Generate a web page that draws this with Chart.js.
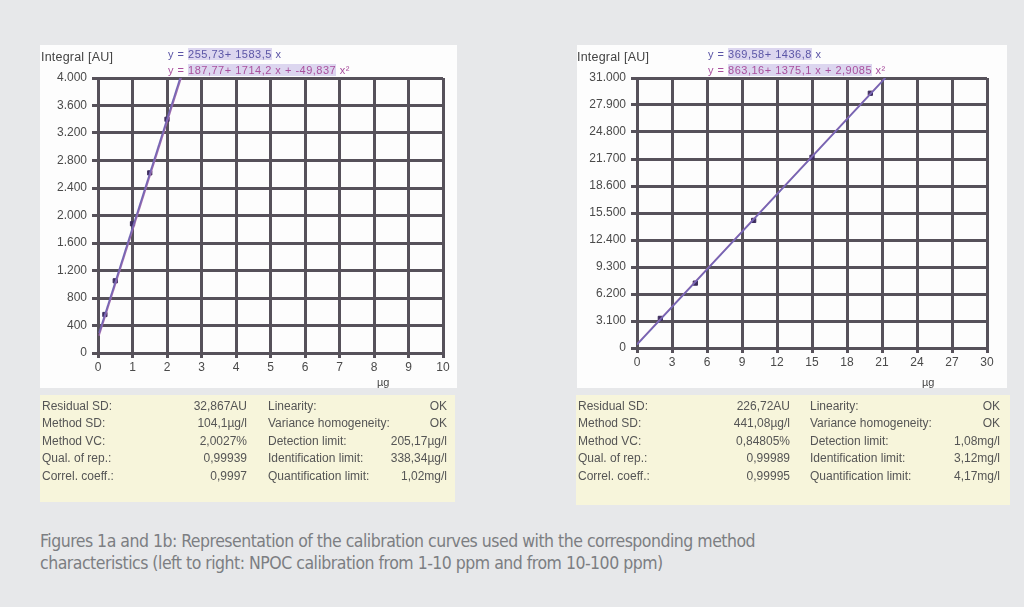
<!DOCTYPE html>
<html>
<head>
<meta charset="utf-8">
<script src="https://cdn.jsdelivr.net/npm/chart.js@4"></script>
<style>
  body { margin: 0; background: #e7e8ea; width: 1024px; height: 607px; position: relative; overflow: hidden; font-family: "Liberation Sans", Arial, sans-serif; }
  .panel { position: absolute; background: #fdfdfd; }
  .panel canvas { position: absolute; left: 0; top: 0; }
  .ylab { position: absolute; font-size: 12.5px; color: #444; letter-spacing: 0.2px; }
  .xlab { position: absolute; font-size: 11px; color: #444; }
  .eq { position: absolute; font-size: 11px; line-height: 16px; white-space: nowrap; letter-spacing: 0.5px; }
  .eq .l1 { color: #5b55a6; }
  .eq .l2 { color: #a9509e; }
  .eq span span { background: #dcd6ef; }
  .tbl { position: absolute; background: #f7f5db; font-size: 12px; color: #555; }
  .tbl div { position: absolute; white-space: nowrap; }
  .caption { position: absolute; left: 40px; top: 530px; font-family: "Liberation Sans Narrow", "DejaVu Sans Condensed", sans-serif; font-size: 17.5px; line-height: 22px; color: #7c7e82; letter-spacing: -0.5px; }
</style>
</head>
<body>

<div class="panel" id="p1" style="left:40px; top:45px; width:417px; height:343px;">
  <canvas id="chart1"></canvas>
</div>
<div class="ylab" style="left:41px; top:50px;">Integral [AU]</div>
<div class="eq" style="left:168px; top:46px;">
  <span class="l1">y = <span>255,73+ 1583,5</span> x</span><br>
  <span class="l2">y = <span>187,77+ 1714,2 x + -49,837</span> x²</span>
</div>
<div class="xlab" style="left:377px; top:376px;">µg</div>

<div class="panel" id="p2" style="left:577px; top:45px; width:430px; height:343px;">
  <canvas id="chart2"></canvas>
</div>
<div class="ylab" style="left:577px; top:50px;">Integral [AU]</div>
<div class="eq" style="left:708px; top:46px;">
  <span class="l1">y = <span>369,58+ 1436,8</span> x</span><br>
  <span class="l2">y = <span>863,16+ 1375,1 x + 2,9085</span> x²</span>
</div>
<div class="xlab" style="left:922px; top:376px;">µg</div>

<div class="tbl" id="t1" style="left:40px; top:395px; width:415px; height:107px;"></div>
<div class="tbl" id="t2" style="left:576px; top:395px; width:434px; height:110px;"></div>

<div class="caption">Figures 1a and 1b: Representation of the calibration curves used with the corresponding method<br>characteristics (left to right: NPOC calibration from 1-10 ppm and from 10-100 ppm)</div>

<script>
// left calibration (1-10 ppm)
const leftX = [0.2, 0.5, 1, 1.5, 2];
const leftY = [560, 1050, 1880, 2620, 3400];
const leftLinX = [0.03, 2.38];
const leftLinY = [290, 4000];
const leftQuadX = [0.03, 2.41];
const leftQuadY = [250, 4000];

// right calibration (10-100 ppm)
const rightX = [2, 5, 10, 15, 20];
const rightY = [3400, 7450, 14650, 21900, 29250];
const rightLinX = [0, 21.3];
const rightLinY = [370, 31000];
const rightQuadX = [0, 21.25];
const rightQuadY = [450, 31000];

const leftRows = [
  ['Residual SD:', '32,867AU', 'Linearity:', 'OK'],
  ['Method SD:', '104,1µg/l', 'Variance homogeneity:', 'OK'],
  ['Method VC:', '2,0027%', 'Detection limit:', '205,17µg/l'],
  ['Qual. of rep.:', '0,99939', 'Identification limit:', '338,34µg/l'],
  ['Correl. coeff.:', '0,9997', 'Quantification limit:', '1,02mg/l']
];
const rightRows = [
  ['Residual SD:', '226,72AU', 'Linearity:', 'OK'],
  ['Method SD:', '441,08µg/l', 'Variance homogeneity:', 'OK'],
  ['Method VC:', '0,84805%', 'Detection limit:', '1,08mg/l'],
  ['Qual. of rep.:', '0,99989', 'Identification limit:', '3,12mg/l'],
  ['Correl. coeff.:', '0,99995', 'Quantification limit:', '4,17mg/l']
];

function fillTable(id, rows, cols) {
  const el = document.getElementById(id);
  rows.forEach((r, i) => {
    const top = 3.5 + i * 17.5;
    el.innerHTML +=
      `<div style="left:${cols[0]}px;top:${top}px">${r[0]}</div>` +
      `<div style="right:${cols[1]}px;top:${top}px">${r[1]}</div>` +
      `<div style="left:${cols[2]}px;top:${top}px">${r[2]}</div>` +
      `<div style="right:${cols[3]}px;top:${top}px">${r[3]}</div>`;
  });
}
fillTable('t1', leftRows, [2, 208, 228, 8]);
fillTable('t2', rightRows, [2, 220, 234, 10]);

function dots(n) {
  return String(n).replace(/\B(?=(\d{3})+(?!\d))/g, '.');
}

function pts(xs, ys) {
  return xs.map((x, i) => ({ x: x, y: ys[i] }));
}

function makeChart(canvasId, cfg) {
  const gridColor = '#56515a';
  const tickFont = { size: 12, family: 'Liberation Sans' };
  return new Chart(document.getElementById(canvasId), {
    type: 'scatter',
    data: {
      datasets: [
        { data: pts(cfg.linX, cfg.linY), showLine: true, borderColor: '#7466b4', borderWidth: 1.6, pointRadius: 0 },
        { data: pts(cfg.quadX, cfg.quadY), showLine: true, borderColor: '#a06aac', borderWidth: 1.4, pointRadius: 0 },
        { data: pts(cfg.x, cfg.y), pointStyle: 'rect', pointRadius: 3, backgroundColor: '#3d2d5e', borderColor: '#3d2d5e' }
      ]
    },
    options: {
      responsive: true,
      maintainAspectRatio: false,
      animation: false,
      layout: { padding: { top: 33, right: cfg.padRight, left: 0, bottom: 0 } },
      plugins: { legend: { display: false }, tooltip: { enabled: false } },
      scales: {
        x: {
          type: 'linear', min: 0, max: cfg.xMax,
          ticks: { stepSize: cfg.xStep, color: '#4a4a4a', font: tickFont, padding: 2 },
          grid: { color: gridColor, lineWidth: 3, tickLength: 5 },
          border: { color: gridColor, width: 3 },
          afterFit: s => { s.height = cfg.xHeight; }
        },
        y: {
          type: 'linear', min: 0, max: cfg.yMax,
          ticks: { stepSize: cfg.yStep, color: '#4a4a4a', font: tickFont, padding: 5, callback: v => dots(v) },
          grid: { color: gridColor, lineWidth: 3, tickLength: 6 },
          border: { color: gridColor, width: 3 },
          afterFit: s => { s.width = cfg.yWidth; }
        }
      }
    }
  });
}

makeChart('chart1', {
  x: leftX, y: leftY, linX: leftLinX, linY: leftLinY, quadX: leftQuadX, quadY: leftQuadY,
  xMax: 10, xStep: 1, yMax: 4000, yStep: 400,
  yWidth: 58, xHeight: 35, padRight: 14
});
makeChart('chart2', {
  x: rightX, y: rightY, linX: rightLinX, linY: rightLinY, quadX: rightQuadX, quadY: rightQuadY,
  xMax: 30, xStep: 3, yMax: 31000, yStep: 3100,
  yWidth: 60, xHeight: 40, padRight: 20
});
</script>
</body>
</html>
